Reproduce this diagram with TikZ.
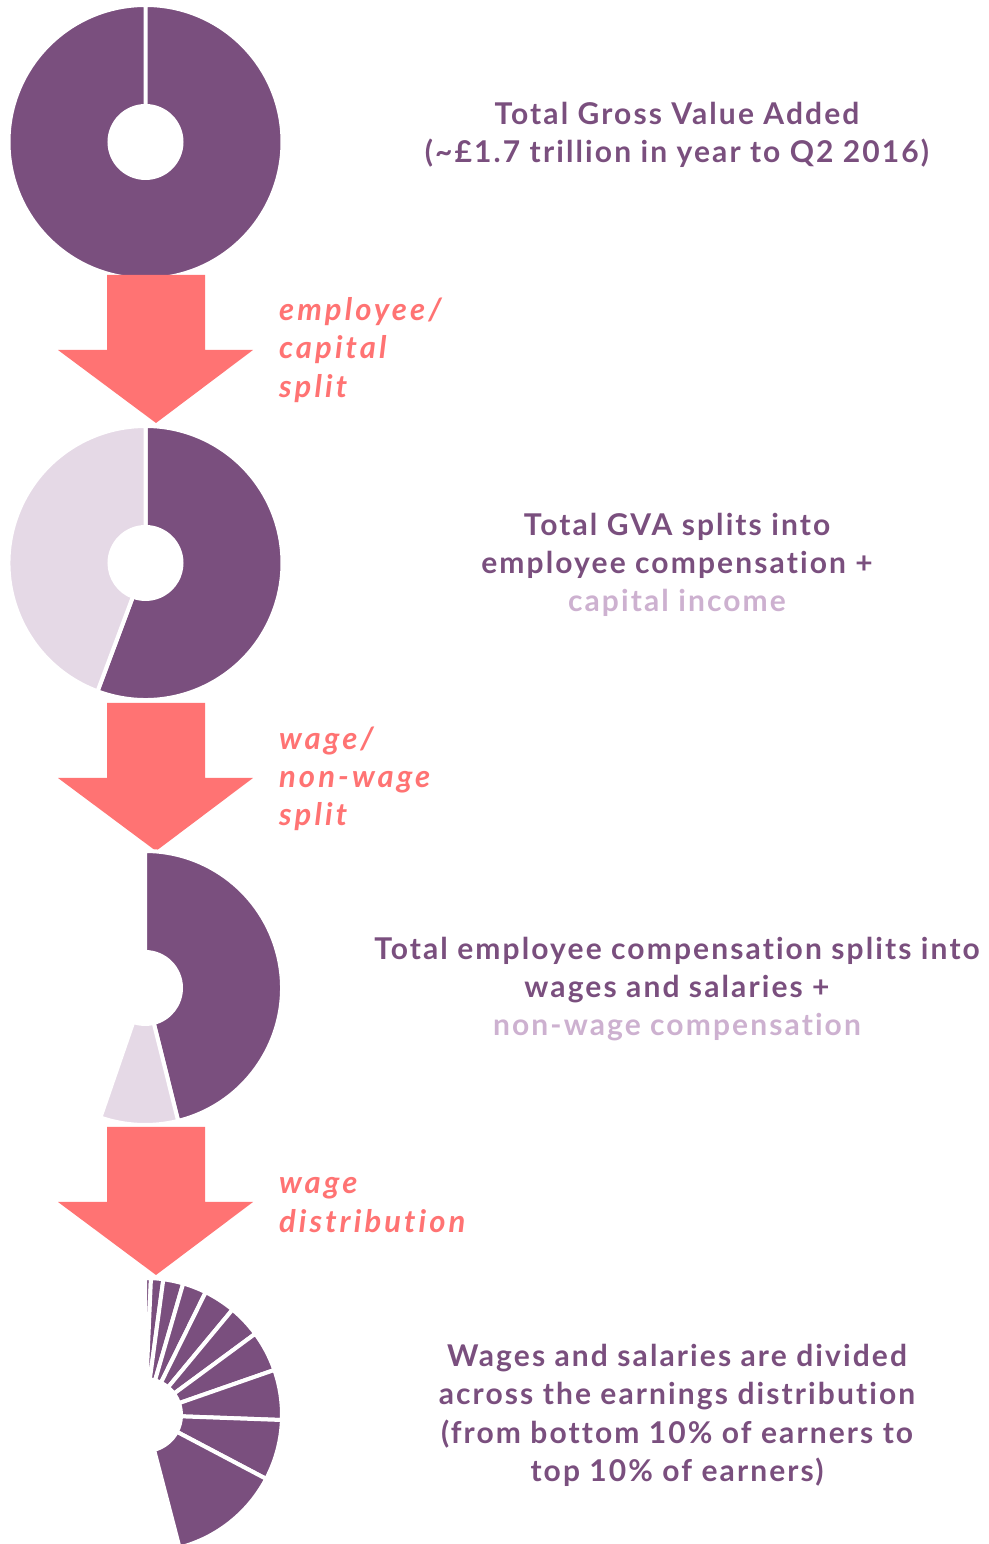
\documentclass[tikz,border=0pt]{standalone}
\usepackage{fontspec}
\setmainfont{Lato}
\newfontfamily\headfont{Lato}[LetterSpace=7, Ligatures=NoCommon]
\newfontfamily\notefont{Lato}[LetterSpace=10, Ligatures=NoCommon]
\usepackage{tikz}

\definecolor{plum}{HTML}{7A4F7E}
\definecolor{lilac}{HTML}{E5D9E6}
\definecolor{salmon}{HTML}{FF7373}
\definecolor{paleplum}{HTML}{CDB1D0}

\tikzset{
  heading/.style={text=plum, font=\headfont\fontsize{15}{19.15}\selectfont\bfseries, align=center},
  splitnote/.style={text=salmon, font=\notefont\fontsize{15.5}{19.15}\selectfont\bfseries\itshape, align=left, anchor=west}
}

% ring sector: centre x, centre y, from angle, to angle, colour
\newcommand{\ringpart}[5]{%
  \fill[#5, draw=white, line width=2pt, shift={(#1,#2)}]
    (#3:36) arc[start angle=#3, end angle=#4, radius=36]
    -- (#4:137) arc[start angle=#4, end angle=#3, radius=137] -- cycle;}

% big down arrow, #1 = top of the shaft
\newcommand{\flowarrow}[1]{%
  \fill[salmon] (107,#1) -- (205,#1) -- (205,#1-75) -- (253,#1-75)
    -- (156,#1-148) -- (58,#1-75) -- (107,#1-75) -- cycle;}

\begin{document}
\begin{tikzpicture}[x=0.5pt,y=0.5pt]
\useasboundingbox (0,0) rectangle (989,1544);

\ringpart{145.5}{1402}{90}{-270}{plum}
\flowarrow{1269}
\node [splitnote] (split1) at (272,1194) {employee/\\capital\\split};

\ringpart{145.5}{981}{90}{-110.5}{plum}
\ringpart{145.5}{981}{90}{249.5}{lilac}
\flowarrow{841}
\node [splitnote] (split2) at (272,765) {wage/\\non-wage\\split};

\ringpart{145}{556}{90}{-76}{plum}
\ringpart{145}{556}{-76}{-109}{lilac}
\flowarrow{417}
\node [splitnote] (split3) at (272,339) {wage\\distribution};

\foreach \a/\b in {90/87.5, 87.5/82.3, 82.3/73.8, 73.8/63.7, 63.7/50.3,
                   50.3/36.4, 36.4/19.2, 19.2/-2.1, -2.1/-27.8, -27.8/-75.4}
  \ringpart{145}{129}{\a}{\b}{plum};

\node [heading] (gva) at (677,1409)
  {Total Gross Value Added\\(\textasciitilde£1.7 trillion in year to Q2 2016)};
\node [heading] (gvasplit) at (677,979)
  {Total GVA splits into\\employee compensation +\\{\color{paleplum}capital income}};
\node [heading] (compsplit) at (677,555)
  {Total employee compensation splits into\\wages and salaries +\\{\color{paleplum}non-wage compensation}};
\node [heading] (wagedist) at (677,128.5)
  {Wages and salaries are divided\\across the earnings distribution\\(from bottom 10\% of earners to\\top 10\% of earners)};
\end{tikzpicture}
\end{document}
